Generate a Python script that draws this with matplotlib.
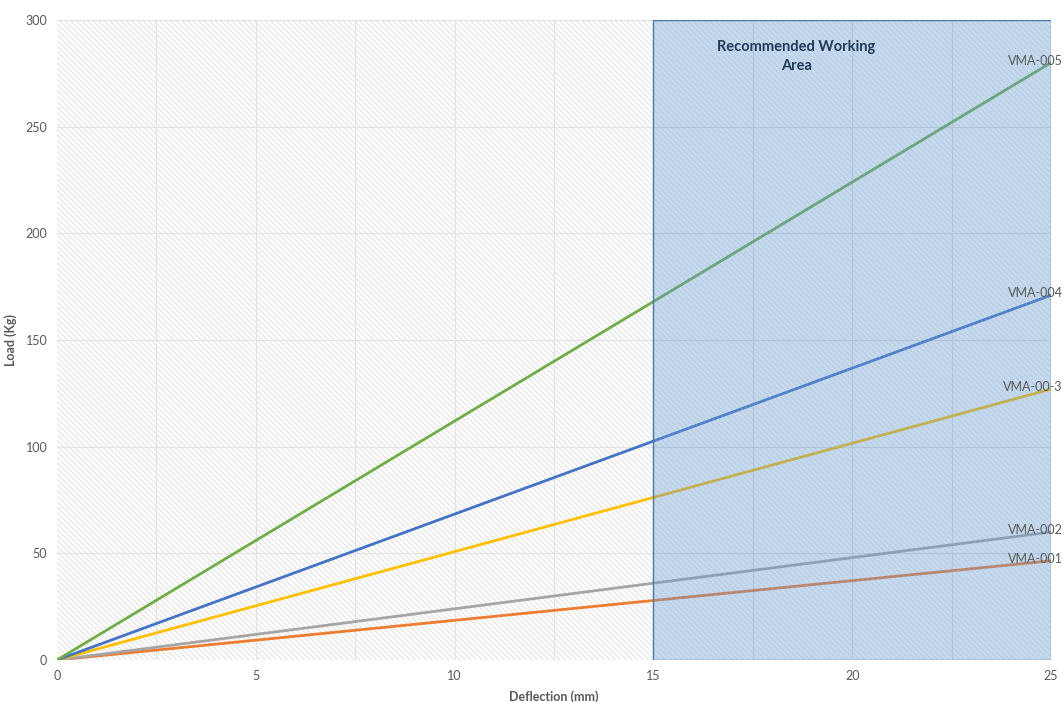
import matplotlib
matplotlib.use("Agg")
import matplotlib.pyplot as plt
from matplotlib.patches import Rectangle

plt.rcParams['font.family'] = ['Lato', 'DejaVu Sans']
plt.rcParams['hatch.linewidth'] = 0.8

deflection = [0, 25]
series_names = ["VMA-001", "VMA-002", "VMA-00-3", "VMA-004", "VMA-005"]
loads = {
    "VMA-001": [0, 46.5],
    "VMA-002": [0, 60],
    "VMA-00-3": [0, 127],
    "VMA-004": [0, 171],
    "VMA-005": [0, 280],
}
colors = {
    "VMA-001": "#ed7d31",
    "VMA-002": "#a5a5a5",
    "VMA-00-3": "#ffc000",
    "VMA-004": "#4472c4",
    "VMA-005": "#70ad47",
}
x_ticks = [0, 5, 10, 15, 20, 25]
y_ticks = [0, 50, 100, 150, 200, 250, 300]
area_x = [15, 25]
area_y = [0, 300]

fig = plt.figure(figsize=(10.64, 7.02), dpi=100)
ax = fig.add_axes([57/1064, 42/702, 994/1064, 640/702])

# hatched background (left part)
bg = Rectangle((0, 0), area_x[0], 300, facecolor='white', edgecolor='#e4e4e4',
               hatch='\\\\\\\\\\\\', linewidth=0, zorder=0)
ax.add_patch(bg)

# gridlines
for gx in [2.5 * i for i in range(1, 10)]:
    ax.axvline(gx, color='#e3e3e3', lw=0.8, zorder=1)
for gy in y_ticks[1:]:
    ax.axhline(gy, color='#e3e3e3', lw=0.8, zorder=1)

for name in series_names:
    ax.plot(deflection, loads[name], color=colors[name], lw=2, zorder=3)
    ax.text(25.3, loads[name][-1] + 1, name, ha='right', va='center',
            fontsize=9, color='#595959', zorder=7, clip_on=False)

# recommended area
w = area_x[1] - area_x[0]
h = area_y[1] - area_y[0]
fill = Rectangle((area_x[0], area_y[0]), w, h,
                 facecolor=(0.36, 0.58, 0.80, 0.34), edgecolor='none',
                 linewidth=0, zorder=4)
ax.add_patch(fill)
hatch = Rectangle((area_x[0], area_y[0]), w, h,
                  facecolor='none', edgecolor=(0.55, 0.68, 0.82, 0.3),
                  hatch='\\\\\\\\\\\\', linewidth=0, zorder=5)
ax.add_patch(hatch)
border = Rectangle((area_x[0], area_y[0]), w, h,
                   facecolor='none', edgecolor='#4a79a6', linewidth=1.0, zorder=6)
ax.add_patch(border)
ax.text(18.6, 283, "Recommended Working\nArea", ha='center', va='center',
        fontsize=10.5, fontweight='bold', color='#1f3a5a', zorder=7, linespacing=1.5)

ax.set_xlim(0, 25)
ax.set_ylim(0, 300)
ax.set_xticks(x_ticks)
ax.set_yticks(y_ticks)
for s in ax.spines.values():
    s.set_visible(False)
ax.tick_params(length=0, labelsize=9, labelcolor='#595959', pad=7)
ax.set_xlabel("Deflection (mm)", fontsize=9, fontweight='bold', color='#595959', labelpad=6)
ax.set_ylabel("Load (Kg)", fontsize=9, fontweight='bold', color='#595959', labelpad=6)

fig.savefig("out.png", dpi=100)
